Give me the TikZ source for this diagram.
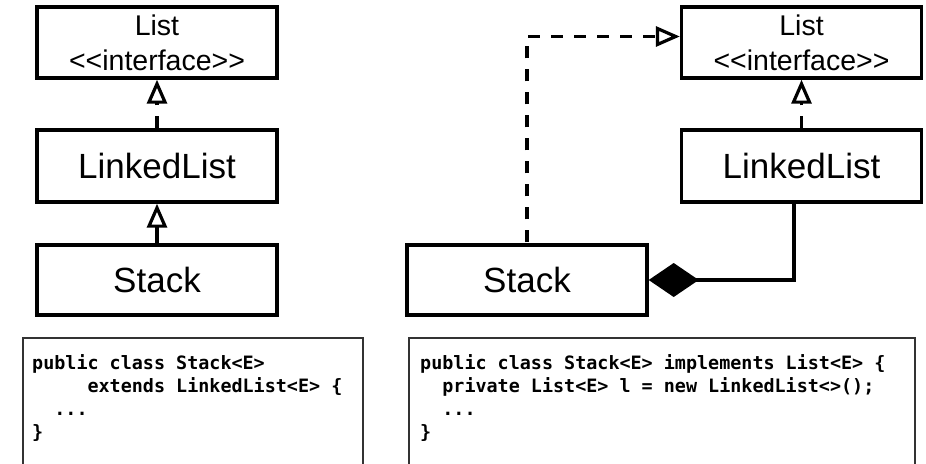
\documentclass[tikz,border=0pt]{standalone}
\usepackage{fontspec}
\setmainfont{Liberation Sans}[Ligatures=TeXOff]
\newfontfamily\codefont{DejaVu Sans Mono}[Ligatures=TeXOff]
\usetikzlibrary{arrows.meta}

\begin{document}
\begin{tikzpicture}[x=1pt,y=-1pt,
  umlbox/.style={draw, line width=3.4pt, minimum width=240pt, inner sep=0pt},
  ifacetext/.style={font=\fontsize{28.5}{35}\selectfont, align=center},
  classtext/.style={font=\fontsize{35}{40}\selectfont},
  link/.style={line width=3.2pt},
  opentip/.style={-{Triangle[open,length=24pt,width=20pt,line width=3.2pt]}},
  realize/.style={link, opentip, dash pattern=on 12pt off 11pt},
  extend/.style={link, opentip},
  compose/.style={link, {Diamond[length=50pt,width=34pt]}-},
  codebox/.style={draw=black!80, line width=1.6pt, anchor=north west, inner sep=0pt, minimum height=150pt},
  codetext/.style={font=\codefont\bfseries\fontsize{18.4}{23}\selectfont, align=left, anchor=north west, inner sep=0pt}
]
\useasboundingbox (0,0) rectangle (926,463);

% Inheritance variant
\node[umlbox, ifacetext, minimum height=71pt] (listL) at (157,42.5) {List\\<<interface>>};
\node[umlbox, classtext, minimum height=72pt] (linkL) at (157,166) {LinkedList};
\node[umlbox, classtext, minimum height=70pt] (stackL) at (157,280) {Stack};

\draw[realize] (linkL.north) -- (listL.south);
\draw[extend] (stackL.north) -- (linkL.south);

% Composition variant
\node[umlbox, ifacetext, minimum height=71pt] (listR) at (801.5,42.5) {List\\<<interface>>};
\node[umlbox, classtext, minimum height=72pt] (linkR) at (801.5,166) {LinkedList};
\node[umlbox, classtext, minimum height=70pt] (stackR) at (527,280) {Stack};

\draw[realize] (linkR.north) -- (listR.south);
\draw[realize, dash phase=22pt] (stackR.north) |- ([yshift=6pt]listR.west);
\coordinate (compTop) at ([xshift=-7.5pt]linkR.south);
\draw[compose] (stackR.east) -| (compTop);

% Source listings
\node[codebox, minimum width=340pt] (codeBoxL) at (22,337) {};
\node[codetext] (codeL) at (32,354) {\rule{0pt}{15pt}public class Stack<E>\\
\hphantom{xxxxx}extends LinkedList<E> \{\\
\hphantom{xx}...\\
\}};

\node[codebox, minimum width=506pt] (codeBoxR) at (408,337) {};
\node[codetext] (codeR) at (420,354) {\rule{0pt}{15pt}public class Stack<E> implements List<E> \{\\
\hphantom{xx}private List<E> l = new LinkedList<>();\\
\hphantom{xx}...\\
\}};
\end{tikzpicture}
\end{document}
